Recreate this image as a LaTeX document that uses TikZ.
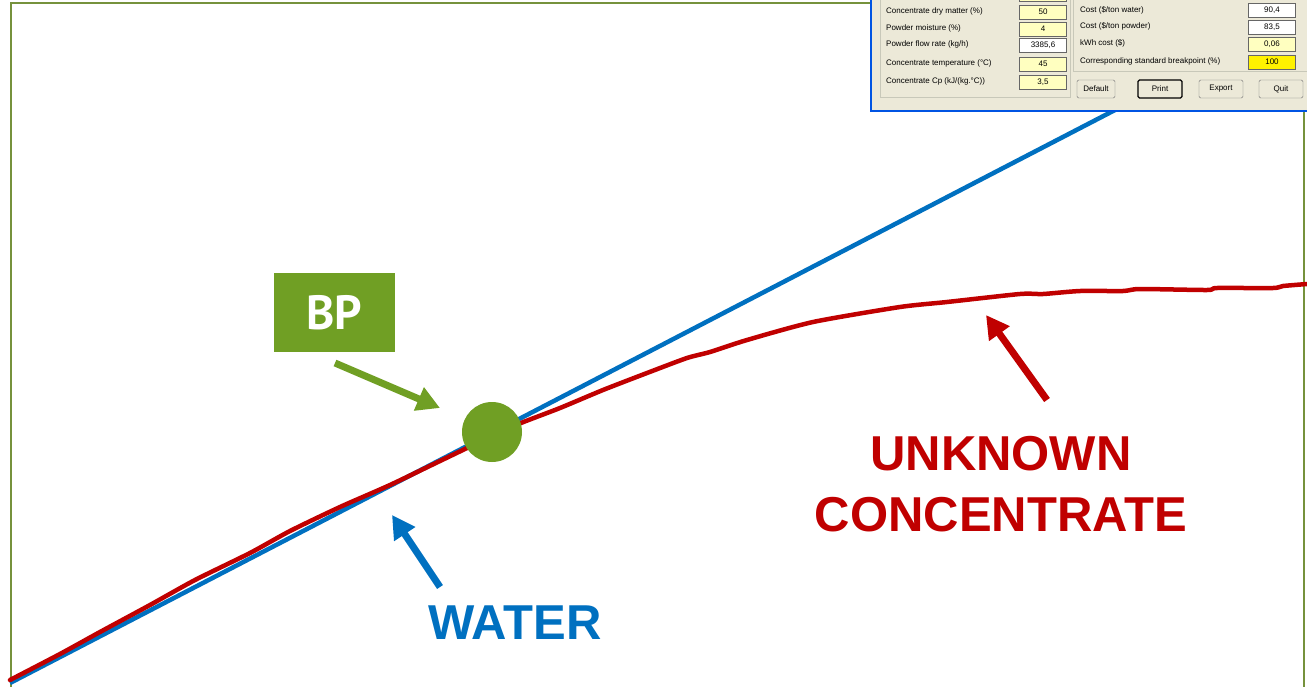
\documentclass[tikz,border=0pt]{standalone}
\usepackage{fontspec}
\setmainfont{Liberation Sans}
\newfontfamily\bpfont{PT Sans}
\usetikzlibrary{arrows.meta}
\definecolor{framegreen}{RGB}{118,146,60}
\definecolor{bpgreen}{RGB}{112,159,36}
\definecolor{waterblue}{RGB}{0,112,192}
\definecolor{concred}{RGB}{192,0,0}
\definecolor{guibeige}{RGB}{236,233,216}
\definecolor{guiedge}{RGB}{200,200,185}
\definecolor{guiblue}{RGB}{0,84,227}
\definecolor{fieldyellow}{RGB}{255,255,192}
\newcommand{\guitext}{\fontsize{8}{9.6}\selectfont}
\begin{document}
\begin{tikzpicture}[x=1pt, y=-1pt, >={Triangle[length=23pt,width=24pt]},
  guilabel/.style={anchor=west, inner sep=0, font=\guitext},
  field/.style={draw=black!60, line width=0.8, minimum width=47, minimum height=14, inner sep=0, font=\guitext},
  guibutton/.style={draw=black!55, rounded corners=1.5, fill=guibeige, minimum height=18, inner sep=0, font=\guitext},
  bigtext/.style={font=\fontsize{49}{61}\selectfont\bfseries, align=center, inner sep=0}]
\useasboundingbox (0,0) rectangle (1307,686);
% frame
\draw[framegreen, line width=2.5] (11,690) -- (11,3) -- (880,3);
\draw[framegreen, line width=2.5] (1304,100) -- (1304,690);
% water and concentrate
\draw[waterblue, line width=4.5] (10,683) -- (1115,110);
\draw[concred, line width=4.5, line cap=round] plot[smooth, tension=0.4] coordinates {
  (10,680) (60,654) (100,632) (150,605) (195,580) (250,553) (290,531)
  (340,507) (390,485) (440,461) (490,437) (521,423) (560,408) (603,390)
  (647,373) (687,358) (710,352) (747,340) (813,322) (900,307) (947,302)
  (1020,294) (1043,294) (1080,291) (1123,291) (1140,289) (1207,290)
  (1217,288) (1273,288) (1283,286) (1307,284)};
\node[circle, fill=bpgreen, minimum size=60, inner sep=0] (bpdot) at (492,432) {};
% dialog
\fill[guibeige] (871,-2) rectangle (1310,111);
\draw[guiblue, line width=2.5] (871,-2) -- (871,111) -- (1310,111);
\draw[guiedge] (880,-2) rectangle (1070,97);
\draw[guiedge] (1073,-2) rectangle (1312,71);
\node[field, fill=fieldyellow] (topfield) at (1043,-6) {};
\node[guilabel] (drylab) at (886,11) {Concentrate dry matter (\%)};
\node[field, fill=fieldyellow] (dryval) at (1043,12) {50};
\node[guilabel] (moistlab) at (886,28) {Powder moisture (\%)};
\node[field, fill=fieldyellow] (moistval) at (1043,29) {4};
\node[guilabel] (flowlab) at (886,44) {Powder flow rate (kg/h)};
\node[field, fill=white] (flowval) at (1043,45) {3385,6};
\node[guilabel] (templab) at (886,63) {Concentrate temperature (°C)};
\node[field, fill=fieldyellow] (tempval) at (1043,64) {45};
\node[guilabel] (cplab) at (886,81) {Concentrate Cp (kJ/(kg.°C))};
\node[field, fill=fieldyellow] (cpval) at (1043,82) {3,5};
\node[guilabel] (waterlab) at (1080,10) {Cost (\$/ton water)};
\node[field, fill=white] (waterval) at (1272,10) {90,4};
\node[guilabel] (powderlab) at (1080,26) {Cost (\$/ton powder)};
\node[field, fill=white] (powderval) at (1272,27) {83,5};
\node[guilabel] (kwhlab) at (1080,43) {kWh cost (\$)};
\node[field, fill=fieldyellow] (kwhval) at (1272,44) {0,06};
\node[guilabel] (bplab) at (1080,61) {Corresponding standard breakpoint (\%)};
\node[field, fill=yellow] (bpval) at (1272,62) {100};
\node[guibutton, minimum width=38] (default) at (1096,89) {Default};
\node[guibutton, minimum width=44, draw=black, line width=1.2] (print) at (1160,89) {Print};
\node[guibutton, minimum width=44] (export) at (1221,89) {Export};
\node[guibutton, minimum width=44] (quit) at (1281,89) {Quit};
% labels
\node[fill=bpgreen, text=white, minimum width=121, minimum height=79, inner sep=0,
  font=\bpfont\fontsize{48}{48}\selectfont\bfseries] (bpbox) at (334.5,312.5) {BP};
\node[bigtext, text=waterblue] (water) at (515,622.5) {WATER};
\node[bigtext, text=concred] (concentrate) at (1001,484) {UNKNOWN\\CONCENTRATE};
% arrows
\coordinate (bptail) at (335,363);
\coordinate (bptip) at (440,408);
\coordinate (watertail) at (440,587);
\coordinate (watertip) at (392,515);
\coordinate (conctail) at (1047,400);
\coordinate (conctip) at (986,315);
\draw[->, bpgreen, line width=7] (bptail) -- (bptip);
\draw[->, waterblue, line width=7] (watertail) -- (watertip);
\draw[->, concred, line width=7] (conctail) -- (conctip);
\end{tikzpicture}
\end{document}
